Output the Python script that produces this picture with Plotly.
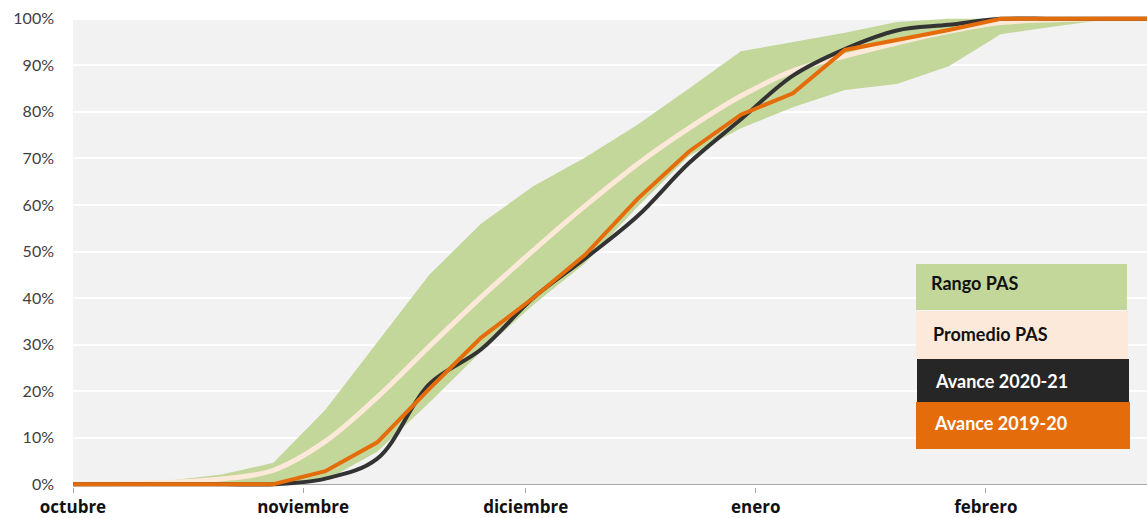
import plotly.graph_objects as go

# ---------------- data ----------------
fechas = ["2020-09-30", "2020-10-07", "2020-10-14", "2020-10-21", "2020-10-28",
          "2020-11-04", "2020-11-11", "2020-11-18", "2020-11-25", "2020-12-02",
          "2020-12-09", "2020-12-16", "2020-12-23", "2020-12-30", "2021-01-06",
          "2021-01-13", "2021-01-20", "2021-01-27", "2021-02-03", "2021-02-10",
          "2021-02-17", "2021-02-24"]

rango_min = [0, 0, 0, 0, 0, 0.8, 7, 17.5, 28.5, 38.5, 47.5, 59.5, 70.5, 76.5,
             81, 84.7, 86, 89.8, 96.7, 98.3, 99.8, 100]
rango_max = [0, 0.2, 0.8, 2.1, 4.6, 16, 30.5, 45, 56, 64, 70.2, 77.2, 85, 93,
             95, 97, 99.3, 100, 100, 100, 100, 100]
promedio_pas = [0, 0.1, 0.4, 1.1, 3, 9.2, 18.7, 29.6, 40.2, 50.2, 59.8, 68.7,
                76.5, 83.4, 88.8, 92, 94.8, 97.3, 99.2, 99.8, 100, 100]
avance_2020_21 = [0, 0, 0, 0, 0, 1.2, 5.5, 21.5, 29, 40, 48.5, 57.5, 69, 78.4,
                  87.8, 93.5, 97.5, 98.7, 100, 100, 100, 100]
avance_2019_20 = [0, 0, 0, 0, 0, 2.8, 9, 20.5, 31.5, 40, 49.3, 61.2, 71.5, 79.4,
                  84, 93.3, 95.4, 97.6, 100, 100, 100, 100]

mes_ticks = ["2020-10-01", "2020-11-01", "2020-12-01", "2021-01-01", "2021-02-01"]
mes_labels = ["octubre", "noviembre", "diciembre", "enero", "febrero"]
y_ticks = list(range(0, 101, 10))
y_labels = [f"{v}%" for v in y_ticks]
leyenda = ["Rango PAS", "Promedio PAS", "Avance 2020-21", "Avance 2019-20"]

# ---------------- layout helpers ----------------
W, H = 1147, 518
L, R, T, B = 73, 0, 16, 31


def px_x(p):
    return (p - L) / (W - L - R)


def px_y(p):
    return (H - B - p) / (H - T - B)


VERDE = "#c4d79b"
MELOCOTON = "#fde9d9"
NEGRO = "#333333"
NARANJA = "#e46c0a"

fig = go.Figure()
fig.add_trace(go.Scatter(x=fechas, y=rango_min, mode="lines", line=dict(width=0),
                         hoverinfo="skip", showlegend=False))
fig.add_trace(go.Scatter(x=fechas, y=rango_max, mode="lines", line=dict(width=0),
                         fill="tonexty", fillcolor=VERDE, name=leyenda[0], showlegend=False))
fig.add_trace(go.Scatter(x=fechas, y=promedio_pas, mode="lines", name=leyenda[1],
                         line=dict(color=MELOCOTON, width=5, shape="spline"), showlegend=False))
fig.add_trace(go.Scatter(x=fechas, y=avance_2020_21, mode="lines", name=leyenda[2],
                         line=dict(color=NEGRO, width=4, shape="spline"), showlegend=False))
fig.add_trace(go.Scatter(x=fechas, y=avance_2019_20, mode="lines", name=leyenda[3],
                         line=dict(color=NARANJA, width=4), showlegend=False))

shapes = [dict(type="rect", xref="paper", yref="y", x0=0, x1=1, y0=0, y1=100,
               fillcolor="#f2f2f2", line=dict(width=0), layer="below")]

cajas = [  # (x0, x1, y0, y1) in px, fill, text colour, text x, text y
    (916, 1127, 264, 310, VERDE, "#111111", 929, 283),
    (916, 1128, 311, 359, MELOCOTON, "#111111", 931, 334),
    (917, 1129, 359, 402, "#262626", "#ffffff", 933, 381),
    (916, 1130, 402, 449, NARANJA, "#ffffff", 932, 423),
]
annotations = []
for (x0, x1, y0, y1, fc, tc, tx, ty), txt in zip(cajas, leyenda):
    shapes.append(dict(type="rect", xref="paper", yref="paper",
                       x0=px_x(x0), x1=px_x(x1), y0=px_y(y1), y1=px_y(y0),
                       fillcolor=fc, line=dict(width=0)))
    annotations.append(dict(xref="paper", yref="paper", x=px_x(tx), y=px_y(ty),
                            xanchor="left", yanchor="middle", showarrow=False,
                            text=txt, font=dict(family="Lato", size=18, color=tc,
                                                weight="bold")))

fig.update_layout(
    width=W, height=H,
    margin=dict(l=L, r=R, t=T, b=B, pad=0, autoexpand=False),
    paper_bgcolor="white", plot_bgcolor="white",
    shapes=shapes, annotations=annotations,
    showlegend=False,
    xaxis=dict(type="date", range=["2020-10-01", "2021-02-22 17:00"],
               tickvals=mes_ticks, ticktext=mes_labels,
               ticks="outside", ticklen=5, tickcolor="#a6a6a6",
               showgrid=False, showline=False, zeroline=False,
               tickfont=dict(family="Open Sans", size=17, color="#111111", weight="bold"),
               ticklabelstandoff=0, automargin=False),
    yaxis=dict(range=[-0.6, 100.6], tickvals=y_ticks, ticktext=y_labels,
               showgrid=True, gridcolor="white", gridwidth=1.5,
               zeroline=True, zerolinecolor="#a6a6a6", zerolinewidth=1,
               showline=False, ticks="",
               tickfont=dict(family="Lato", size=16, color="#404040"),
               ticklabelstandoff=18, automargin=False),
)

fig.write_html("out.html", config={"displayModeBar": False},
               post_script="document.body.style.margin='0';")
